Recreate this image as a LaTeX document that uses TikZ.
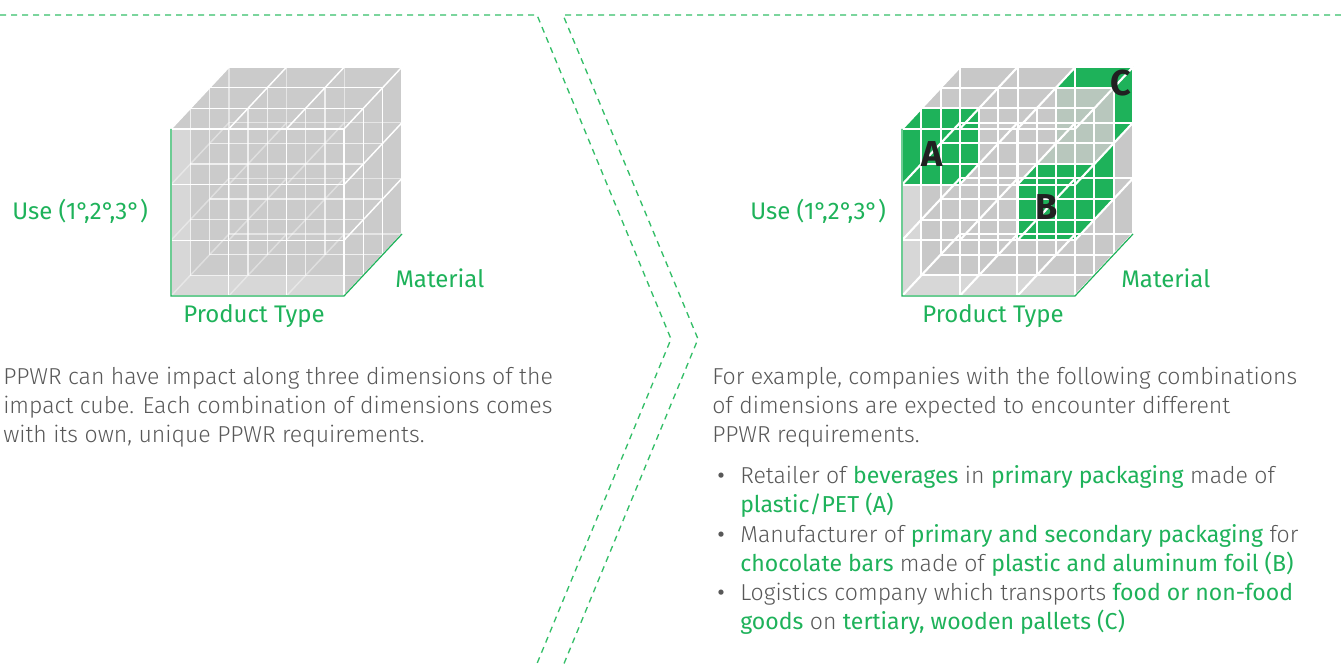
\documentclass[tikz,border=0pt]{standalone}
\usepackage{fontspec}
\setmainfont{Fira Sans Light}
\newfontfamily\regfont{Fira Sans}

\definecolor{bcggreen}{RGB}{30,178,90}
\definecolor{dashgreen}{RGB}{52,190,104}
\definecolor{bodygray}{RGB}{88,88,88}
\definecolor{cubegray}{RGB}{203,203,203}
\definecolor{cubelight}{RGB}{215,215,215}
\definecolor{cubegrayB}{RGB}{200,200,200}
\definecolor{tintgreen}{RGB}{184,199,189}

\newcommand\hl[1]{{\regfont\color{bcggreen}#1}}

% gray body of a 3x3x3 cube: silhouette plus the lighter front rim
\newcommand\cubebody[2]{%
  \fill[#1] (0,0,0) -- (3,0,0) -- (3,0,3) -- (3,3,3) -- (0,3,3) -- (0,3,0) -- cycle;
  \fill[#2] (0,3,0) -- (0.335,3,0) -- (0.335,0.371,0) -- (3,0.371,0) -- (3,0,0) -- (0,0,0) -- cycle;
}
% white lattice lines; #1 = opacity of back plane, #2 = opacity of middle planes,
% #3 = opacity of inner depth lines, #4 = line width
\newcommand\cubelattice[4]{%
  \foreach \k in {0,...,3}{\foreach \j in {0,...,3}{%
    \pgfmathsetmacro\op{(\k==0 || \j==3) ? 1 : ((\k==3) ? #1 : #2)}
    \draw[white, line width=#4, opacity=\op] (0,\j,\k) -- (3,\j,\k);}}
  \foreach \k in {0,...,3}{\foreach \i in {0,...,3}{%
    \pgfmathsetmacro\op{(\k==0 || \i==3) ? 1 : ((\k==3) ? #1 : #2)}
    \draw[white, line width=#4, opacity=\op] (\i,0,\k) -- (\i,3,\k);}}
  \foreach \i in {0,...,3}{\foreach \j in {0,...,3}{%
    \pgfmathsetmacro\op{(\i==3 || \j==3) ? 1 : #3}
    \draw[white, line width=#4, opacity=\op] (\i,\j,0) -- (\i,\j,3);}}
}
\newcommand\cubeaxes{%
  \draw[cubeaxis] (0,3,0) -- (0,0,0) -- (3,0,0) -- (3,0,3);
}

\tikzset{
  body/.style={font=\fontsize{17.3}{20}\selectfont, text=bodygray, inner sep=0pt, anchor=base west},
  bulletmark/.style={font=\regfont\fontsize{17.3}{20}\selectfont, text=bodygray, inner sep=0pt, anchor=base},
  axislabel/.style={font=\regfont\fontsize{18}{20}\selectfont, text=bcggreen, inner sep=0pt},
  cellletter/.style={font=\regfont\bfseries\fontsize{27}{27}\selectfont, text=black!87, inner sep=0pt},
  divider/.style={dashgreen, line width=1pt, dash pattern=on 4.5pt off 3.75pt},
  cubeaxis/.style={bcggreen, line width=0.9pt},
  cubeframe/.style={x={(43.25pt,0pt)}, y={(0pt,41.75pt)}, z={(14.5pt,15.5pt)}}
}

\begin{document}
\begin{tikzpicture}[x=0.75pt, y=-0.75pt]
\useasboundingbox (0,0) rectangle (1341,666);

% dashed dividers with the chevron between the two panels
\coordinate (tl) at (0,15);
\coordinate (tr) at (1341,15);
\coordinate (la) at (537,15);
\coordinate (lb) at (671,339);
\coordinate (lc) at (536,666);
\coordinate (ra) at (563,15);
\coordinate (rb) at (698,339);
\coordinate (rc) at (563,666);
\draw[divider] (tl) -- (la) -- (lb) -- (lc);
\draw[divider] (tr) -- (ra) -- (rb) -- (rc);

% left cube: translucent grid
\begin{scope}[shift={(171,296)}, cubeframe]
  \cubebody{cubegray}{cubelight}
  \cubelattice{0.5}{0.7}{0.4}{1.1pt}
  \cubeaxes
\end{scope}

% right cube: grid with highlighted cells
\begin{scope}[shift={(902,296)}, cubeframe]
  \cubebody{cubegrayB}{cubelight}
  % cell A
  \fill[bcggreen] (0,2,0) -- (0,3,0) -- (0,3,1) -- (1,3,1) -- (1,2,1) -- (1,2,0) -- cycle;
  % faces seen through the grid
  \fill[tintgreen] (2,2,2) -- (2,3,2) -- (3,3,2) -- (3,2,2) -- cycle;
  \fill[tintgreen] (2,2,1) -- (2,2,2) -- (3,2,2) -- (3,2,1) -- cycle;
  % cells B
  \fill[bcggreen] (2,1,0) -- (2,2,0) -- (2,2,1) -- (3,2,1) -- (3,2,2) -- (3,1,2) -- (3,1,1) -- (3,1,0) -- cycle;
  % cell C
  \fill[bcggreen] (2,3,2) -- (2,3,3) -- (3,3,3) -- (3,2,3) -- (3,2,2) -- (3,3,2) -- cycle;
  \cubelattice{1}{1}{1}{1.6pt}
  \cubeaxes
\end{scope}

\node[cellletter] (cellA) at (932,154) {A};
\node[cellletter] (cellB) at (1047,207) {B};
\node[cellletter] (cellC) at (1121,83) {C};

% axis labels
\node[axislabel, anchor=west] (useL) at (12,211) {Use (1°,2°,3°)};
\node[axislabel, anchor=west] (matL) at (395,278) {Material};
\node[axislabel] (typL) at (254,316) {Product Type};
\node[axislabel, anchor=west] (useR) at (750,211) {Use (1°,2°,3°)};
\node[axislabel, anchor=west] (matR) at (1121,278) {Material};
\node[axislabel] (typR) at (993,316) {Product Type};

% left text
\node[body] (l1) at (3,384) {PPWR can have impact along three dimensions of the};
\node[body] (l2) at (3,413) {impact cube. Each combination of dimensions comes};
\node[body] (l3) at (3,442) {with its own, unique PPWR requirements.};

% right text
\node[body] (r1) at (712,384) {For example, companies with the following combinations};
\node[body] (r2) at (712,413) {of dimensions are expected to encounter different};
\node[body] (r3) at (712,442) {PPWR requirements.};

\node[bulletmark] (b1) at (721,483) {•};
\node[body] (b1a) at (740,483) {Retailer of \hl{beverages} in \hl{primary packaging} made of};
\node[body] (b1b) at (740,512) {\hl{plastic/PET (A)}};
\node[bulletmark] (b2) at (721,542) {•};
\node[body] (b2a) at (740,542) {Manufacturer of \hl{primary and secondary packaging} for};
\node[body] (b2b) at (740,571) {\hl{chocolate bars} made of \hl{plastic and aluminum foil (B)}};
\node[bulletmark] (b3) at (721,600) {•};
\node[body] (b3a) at (740,600) {Logistics company which transports \hl{food or non-food}};
\node[body] (b3b) at (740,629) {\hl{goods} on \hl{tertiary, wooden pallets (C)}};
\end{tikzpicture}
\end{document}
